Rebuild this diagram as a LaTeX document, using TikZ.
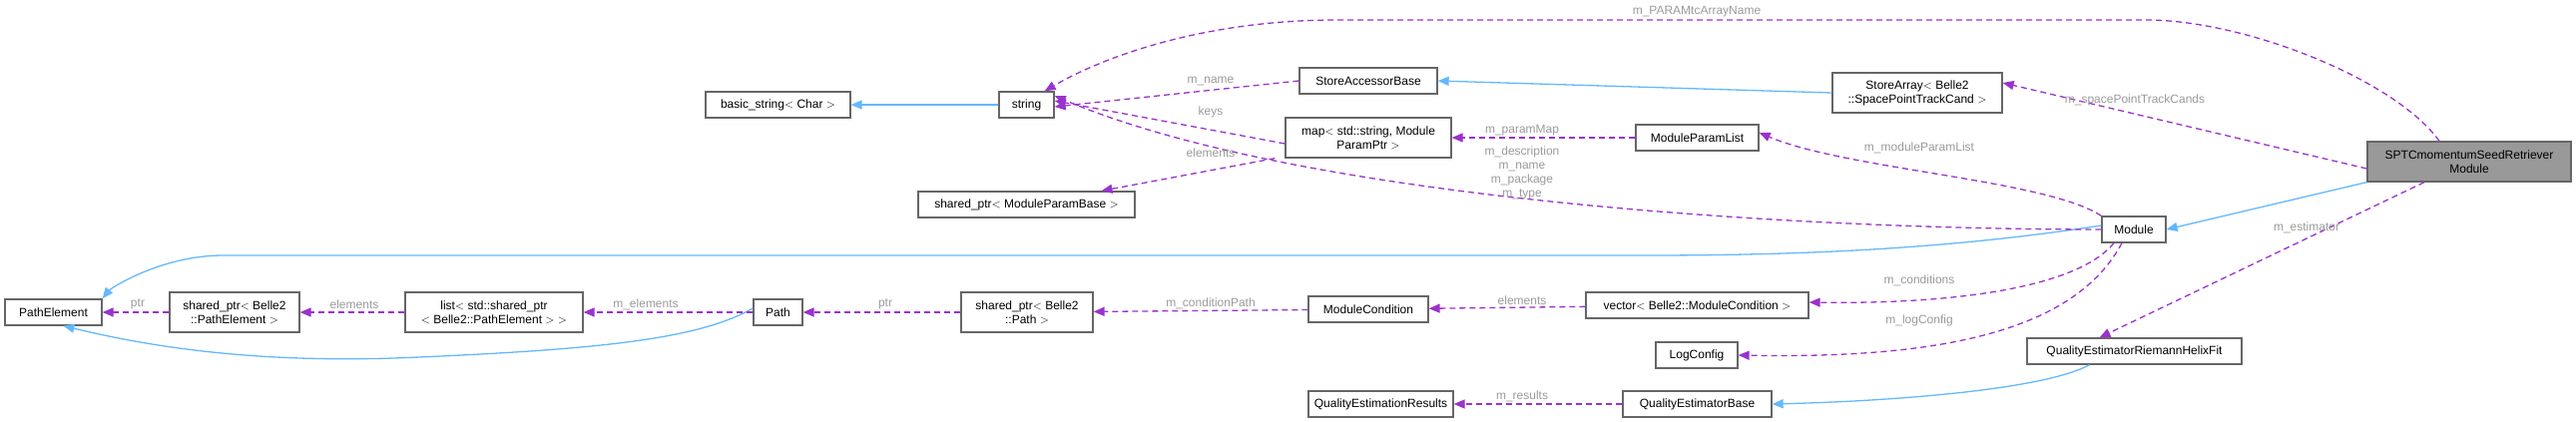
\documentclass[tikz,border=0pt]{standalone}
\usepackage{fontspec}
\setmainfont{Liberation Sans}
\usetikzlibrary{arrows.meta}
\definecolor{pur}{HTML}{9A32CD}
\definecolor{blu}{HTML}{63B8FF}
\definecolor{lab}{HTML}{9A9A9A}
\definecolor{brd}{HTML}{666666}
\begin{document}
\begin{tikzpicture}[x=1pt,y=-1pt,
  box/.style={draw=brd,line width=1.3pt,fill=white,inner sep=0pt,align=center,font=\fontsize{12}{14}\selectfont,minimum height=26pt},
  two/.style={minimum height=40pt},
  usep/.style={pur,line width=1.3pt,dash pattern=on 6pt off 4pt,-{Triangle[length=11pt,width=9pt]}},
  inh/.style={blu,line width=1.3pt,-{Triangle[open,length=11pt,width=9pt,fill=blu]}},
  lbl/.style={lab,font=\fontsize{12}{14}\selectfont,inner sep=0pt,align=center}]
\useasboundingbox (0,0) rectangle (2581,423);
% nodes
\node[box,minimum width=145pt] (basic) at (779.5,105) {basic\_string$<$ Char $>$};
\node[box,minimum width=55pt] (string) at (1028.5,105) {string};
\node[box,minimum width=217pt] (spmpb) at (1028.5,205) {shared\_ptr$<$ ModuleParamBase $>$};
\node[box,minimum width=97pt] (pe) at (53.5,313) {PathElement};
\node[box,two,minimum width=130pt] (spe) at (235,313) {shared\_ptr$<$ Belle2\\::PathElement $>$};
\node[box,two,minimum width=178pt] (list) at (495,313) {list$<$ std::shared\_ptr\\$<$ Belle2::PathElement $>$ $>$};
\node[box,minimum width=49pt] (path) at (779.5,313) {Path};
\node[box,two,minimum width=132pt] (spp) at (1029,313) {shared\_ptr$<$ Belle2\\::Path $>$};
\node[box,minimum width=138pt] (sab) at (1371,81) {StoreAccessorBase};
\node[box,two,minimum width=166pt] (map) at (1371,138) {map$<$ std::string, Module\\ParamPtr $>$};
\node[box,two,minimum width=170pt] (sa) at (1921,93) {StoreArray$<$ Belle2\\::SpacePointTrackCand $>$};
\node[box,minimum width=123pt] (mpl) at (1700.5,138) {ModuleParamList};
\node[box,two,minimum width=204pt,fill=black!40] (sptc) at (2474,162) {SPTCmomentumSeedRetriever\\Module};
\node[box,minimum width=64pt] (module) at (2138,230) {Module};
\node[box,minimum width=223pt] (vec) at (1700.5,306) {vector$<$ Belle2::ModuleCondition $>$};
\node[box,minimum width=120pt] (mc) at (1371,310) {ModuleCondition};
\node[box,minimum width=82pt] (log) at (1700,356) {LogConfig};
\node[box,minimum width=215pt] (qr) at (2138.5,352) {QualityEstimatorRiemannHelixFit};
\node[box,minimum width=149pt] (qb) at (1700.5,405) {QualityEstimatorBase};
\node[box,minimum width=145pt] (qres) at (1383.5,405) {QualityEstimationResults};
% inheritance
\draw[inh] (string) -- (basic);
\draw[inh] (sa.west) -- (sab.east);
\draw[inh] (sptc.south west) -- (module.east);
\draw[inh] ([yshift=4pt]module.west) .. controls (1950,250) and (1800,256) .. (1650,256) -- (224,256) .. controls (160,256) and (110,290) .. (pe.north east);
\draw[inh] ([yshift=4pt]path.west) .. controls (700,340) and (600,350) .. (420,358) .. controls (250,366) and (140,345) .. ([xshift=10pt]pe.south);
\draw[inh] ([xshift=-45pt]qr.south) .. controls (2050,390) and (1900,402) .. (qb.east);
% usage
\draw[usep] ([xshift=-30pt]sptc.north) .. controls (2400,80) and (2250,20) .. (2150,20) -- (1340,20) .. controls (1200,20) and (1100,60) .. ([xshift=-10pt]string.north east);
\draw[usep] (sab.west) -- ([yshift=-2pt]string.east);
\draw[usep] ([yshift=-6pt]map.west) -- ([yshift=4pt]string.east);
\draw[usep] ([xshift=-10pt]map.south west) -- ([xshift=75pt]spmpb.north);
\draw[usep] (module.west) .. controls (1800,230) and (1300,200) .. ([yshift=9pt]string.east);
\draw[usep] (mpl) -- (map);
\draw[usep] (module.north west) .. controls (2050,180) and (1850,170) .. ([yshift=5pt]mpl.east);
\draw[usep] ([yshift=-7pt]sptc.west) -- ([yshift=10pt]sa.east);
\draw[usep] ([xshift=-45pt]sptc.south) -- ([xshift=-35pt]qr.north);
\draw[usep] ([xshift=-20pt]module.south) .. controls (2080,290) and (1950,305) .. ([yshift=3pt]vec.east);
\draw[usep] ([xshift=-12pt]module.south) .. controls (2080,330) and (1950,360) .. (log.east);
\draw[usep] (vec) -- (mc);
\draw[usep] (mc) -- (spp);
\draw[usep] (spp) -- (path);
\draw[usep] (path) -- (list);
\draw[usep] (list) -- (spe);
\draw[usep] (spe) -- (pe);
\draw[usep] (qb) -- (qres);
% labels
\node[lbl] at (1700,12) {m\_PARAMtcArrayName};
\node[lbl] at (1213,81) {m\_name};
\node[lbl] at (1213,112) {keys};
\node[lbl] at (1213,153) {elements};
\node[lbl] at (1525,131) {m\_paramMap};
\node[lbl] at (1525,173) {m\_description\\m\_name\\m\_package\\m\_type};
\node[lbl] at (1923,148) {m\_moduleParamList};
\node[lbl] at (2139,100) {m\_spacePointTrackCands};
\node[lbl] at (2311,228) {m\_estimator};
\node[lbl] at (1923,281) {m\_conditions};
\node[lbl] at (1923,321) {m\_logConfig};
\node[lbl] at (1525,301) {elements};
\node[lbl] at (1213,304) {m\_conditionPath};
\node[lbl] at (887,305) {ptr};
\node[lbl] at (647,305) {m\_elements};
\node[lbl] at (355,305) {elements};
\node[lbl] at (138,305) {ptr};
\node[lbl] at (1525,397) {m\_results};
\end{tikzpicture}
\end{document}
